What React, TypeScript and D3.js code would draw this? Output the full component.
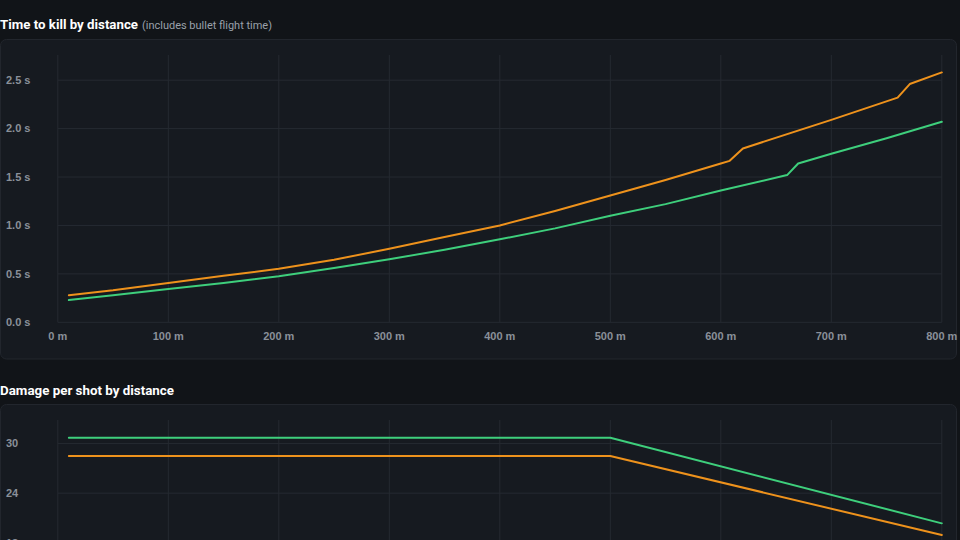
import { scaleLinear, line, curveLinear } from "d3";

// distances in metres
const ttkDistA = [10, 50, 100, 150, 200, 250, 300, 350, 400, 450, 500, 550, 600, 608, 620, 700, 760, 771, 800];
const ttkOrange = [0.28, 0.33, 0.406, 0.48, 0.552, 0.645, 0.76, 0.88, 1.0, 1.15, 1.31, 1.47, 1.64, 1.667, 1.795, 2.09, 2.32, 2.46, 2.58];
const ttkDistB = [10, 50, 100, 150, 200, 250, 300, 350, 400, 450, 500, 550, 600, 660, 670, 700, 750, 800];
const ttkGreen = [0.23, 0.28, 0.344, 0.406, 0.475, 0.56, 0.65, 0.75, 0.857, 0.97, 1.1, 1.22, 1.36, 1.52, 1.64, 1.74, 1.9, 2.07];

const dmgDist = [10, 500, 800];
const dmgGreen = [30.7, 30.7, 20.35];
const dmgOrange = [28.5, 28.5, 18.93];

const distTicks = [0, 100, 200, 300, 400, 500, 600, 700, 800];
const ttkTicks = [0, 0.5, 1.0, 1.5, 2.0, 2.5];
const dmgTicks = [0, 6, 12, 18, 24, 30];

const ORANGE = "#ee921c";
const GREEN = "#3ecf7c";
const GRID = "#252a31";
const TICK = "#8a9099";

interface Series {
  x: number[];
  y: number[];
  color: string;
}

interface PanelProps {
  top: number;
  height: number;
  plotTop: number;
  plotBottom: number;
  yMax: number;
  yTicks: number[];
  fmt: (v: number) => string;
  series: Series[];
  showX: boolean;
}

const scaleX = scaleLinear().domain([0, 800]).range([57.8, 941.8]);

function Panel({ top, height, plotTop, plotBottom, yMax, yTicks, fmt, series, showX }: PanelProps) {
  const scaleY = scaleLinear().domain([0, yMax]).range([plotBottom, plotTop]);
  const path = (s: Series) =>
    line<number>()
      .x((_, i) => scaleX(s.x[i]))
      .y((d) => scaleY(d))
      .curve(curveLinear)(s.y) as string;

  return (
    <g>
      <rect x={0.5} y={top + 0.5} width={956} height={height} rx={6} fill="#161a20" stroke="#22262d" />
      {distTicks.map((d) => (
        <line key={`v-${d}`} x1={scaleX(d)} x2={scaleX(d)} y1={plotTop} y2={scaleY(0)} stroke={GRID} />
      ))}
      {yTicks.map((t) => (
        <g key={`h-${t}`}>
          <line x1={scaleX(0)} x2={scaleX(800)} y1={scaleY(t)} y2={scaleY(t)} stroke={GRID} />
          <text x={6} y={scaleY(t)} dy="0.35em" fill={TICK} fontSize={11} fontWeight="bold" fontFamily="Liberation Sans, Arial, sans-serif">
            {fmt(t)}
          </text>
        </g>
      ))}
      {showX &&
        distTicks.map((d) => (
          <text key={`x-${d}`} x={scaleX(d)} y={scaleY(0) + 14} dy="0.35em" textAnchor="middle" fill={TICK} fontSize={11} fontWeight="bold" fontFamily="Liberation Sans, Arial, sans-serif">
            {`${d} m`}
          </text>
        ))}
      {series.map((s, i) => (
        <path key={i} d={path(s)} fill="none" stroke={s.color} strokeWidth={2} strokeLinejoin="round" strokeLinecap="round" />
      ))}
    </g>
  );
}

export default function App() {
  return (
    <svg width={960} height={540} style={{ position: "fixed", left: 0, top: 0, background: "#111418" }}>
      <text x={0} y={29} fill="#ffffff" fontSize={13} fontWeight="bold" fontFamily="Roboto, sans-serif" textLength={138} lengthAdjust="spacingAndGlyphs">
        Time to kill by distance
      </text>
      <text x={142} y={29} fill="#9aa1aa" fontSize={10.5} fontFamily="Roboto, sans-serif" textLength={130} lengthAdjust="spacingAndGlyphs">
        (includes bullet flight time)
      </text>
      <Panel
        top={39}
        height={319.5}
        plotTop={55}
        plotBottom={322.3}
        yMax={2.76}
        yTicks={ttkTicks}
        fmt={(v) => `${v.toFixed(1)} s`}
        showX={true}
        series={[
          { x: ttkDistA, y: ttkOrange, color: ORANGE },
          { x: ttkDistB, y: ttkGreen, color: GREEN },
        ]}
      />
      <text x={0} y={394.5} fill="#ffffff" fontSize={13} fontWeight="bold" fontFamily="Roboto, sans-serif" textLength={174} lengthAdjust="spacingAndGlyphs">
        Damage per shot by distance
      </text>
      <Panel
        top={404}
        height={320}
        plotTop={420}
        plotBottom={691.6}
        yMax={32.85}
        yTicks={dmgTicks}
        fmt={(v) => `${v}`}
        showX={false}
        series={[
          { x: dmgDist, y: dmgGreen, color: GREEN },
          { x: dmgDist, y: dmgOrange, color: ORANGE },
        ]}
      />
    </svg>
  );
}
